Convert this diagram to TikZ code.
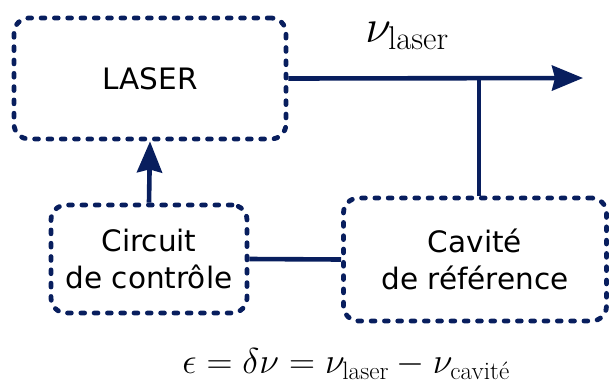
\RequirePackage{fix-cm}
\documentclass[tikz,border=0pt]{standalone}
\usepackage{amsmath}
\usepackage{amssymb}
\usepackage{fontspec}
\newfontfamily\blocfont{DejaVu Sans}
\usetikzlibrary{arrows.meta}
\definecolor{marine}{RGB}{8,30,94}

\begin{document}
\begin{tikzpicture}[x=1pt, y=-1pt,
    bloc/.style = {draw = marine, line width = 4.8pt, dash pattern = on 3.8pt off 9.5pt,
                   line cap = round, rounded corners = 15pt, align = center,
                   font = \blocfont\fontsize{29.5}{37}\selectfont},
    lien/.style = {draw = marine, line width = 4.6pt},
    fleche/.style = {lien, -{Stealth[length = 31pt, width = 25pt, inset = 3pt]}}]
  \useasboundingbox (0,0) rectangle (609,383);

  \node [bloc, minimum width = 272pt, minimum height = 121pt] (laser) at (150,78.5) {LASER};
  \node [bloc, minimum width = 196pt, minimum height = 108pt] (circuit) at (149,259) {Circuit\\de contrôle};
  \node [bloc, minimum width = 263pt, minimum height = 123pt] (cavite) at (475,259.5) {Cavité\\de référence};

  \coordinate (sortie) at (583,78);
  \coordinate (prise) at (479,78);

  \draw [fleche] (laser.east) -- (sortie);
  \draw [lien] (prise) -- (prise |- cavite.north);
  \draw [lien] (circuit.east) -- (cavite.west);
  \draw [fleche] (circuit.north) -- (laser.south);

  \node (nu) at (407,36) {\fontsize{47}{50}\selectfont $\nu_{\mathrm{laser}}$};
  \node (erreur) at (346,364) {\fontsize{36}{40}\selectfont $\epsilon = \delta\nu = \nu_{\text{laser}} - \nu_{\text{cavité}}$};
\end{tikzpicture}
\end{document}
